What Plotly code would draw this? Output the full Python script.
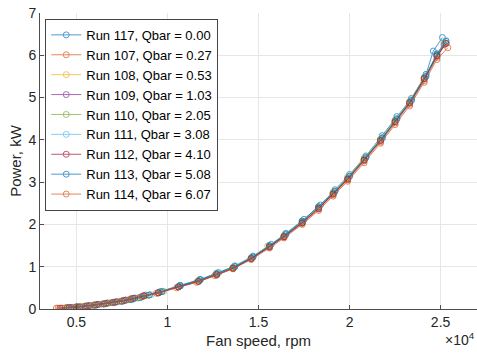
import plotly.graph_objects as go

# ---------------- data ----------------
names = ["Run 117, Qbar = 0.00", "Run 107, Qbar = 0.27", "Run 108, Qbar = 0.53",
         "Run 109, Qbar = 1.03", "Run 110, Qbar = 2.05", "Run 111, Qbar = 3.08",
         "Run 112, Qbar = 4.10", "Run 113, Qbar = 5.08", "Run 114, Qbar = 6.07"]

rpm_117 = [4700, 5200, 5700, 6200, 6700, 7200, 7700, 8200, 8800, 9600, 10700, 11800, 12800, 13700,
           14700, 15700, 16500, 17500, 18400, 19200, 20000, 20900, 21800, 22600, 23400, 24200, 24600, 25100]
pw_117 = [0.03, 0.05, 0.08, 0.11, 0.14, 0.17, 0.21, 0.26, 0.33, 0.41, 0.56, 0.70, 0.86, 1.02,
          1.25, 1.53, 1.79, 2.12, 2.46, 2.82, 3.18, 3.62, 4.10, 4.55, 4.98, 5.55, 6.10, 6.42]

rpm_107 = [3900, 4500, 5000, 5500, 6000, 6500, 7000, 7500, 8000, 8600, 9500, 10600, 11700, 12700, 13600,
           14600, 15600, 16400, 17400, 18300, 19100, 19900, 20800, 21700, 22500, 23300, 24100, 24800, 25300]
pw_107 = [0.02, 0.03, 0.05, 0.07, 0.10, 0.12, 0.16, 0.19, 0.24, 0.30, 0.38, 0.52, 0.65, 0.80, 0.96,
          1.19, 1.46, 1.70, 2.02, 2.36, 2.70, 3.05, 3.50, 3.95, 4.40, 4.84, 5.40, 5.95, 6.28]

rpm_108 = [4300, 4800, 5300, 5800, 6300, 6800, 7300, 7800, 8400, 9000, 9800, 10700, 11800, 12700, 13600,
           14600, 15500, 16400, 17400, 18300, 19100, 19900, 20800, 21700, 22500, 23300, 24100, 24800, 25200]
pw_108 = [0.02, 0.04, 0.06, 0.08, 0.11, 0.14, 0.17, 0.21, 0.27, 0.33, 0.42, 0.55, 0.69, 0.84, 0.99,
          1.22, 1.49, 1.74, 2.07, 2.41, 2.76, 3.12, 3.57, 4.02, 4.47, 4.91, 5.48, 6.02, 6.30]

rpm_109 = [4200, 4700, 5200, 5700, 6200, 6700, 7200, 7700, 8200, 8700, 9500, 10600, 11700, 12700, 13600,
           14600, 15600, 16400, 17400, 18300, 19100, 19900, 20800, 21700, 22500, 23300, 24100, 24800, 25200]
pw_109 = [0.02, 0.04, 0.05, 0.08, 0.11, 0.14, 0.17, 0.21, 0.25, 0.31, 0.39, 0.53, 0.66, 0.82, 0.97,
          1.20, 1.47, 1.72, 2.04, 2.38, 2.73, 3.08, 3.53, 3.99, 4.43, 4.87, 5.44, 5.98, 6.25]

rpm_110 = [4400, 4900, 5400, 5900, 6400, 6900, 7400, 7900, 8400, 8900, 9600, 10700, 11700, 12700, 13600,
           14600, 15600, 16400, 17400, 18300, 19100, 19900, 20800, 21700, 22500, 23300, 24100, 24800, 25250]
pw_110 = [0.03, 0.04, 0.06, 0.09, 0.12, 0.15, 0.18, 0.22, 0.26, 0.32, 0.40, 0.54, 0.67, 0.83, 0.98,
          1.21, 1.48, 1.73, 2.05, 2.40, 2.75, 3.10, 3.55, 4.01, 4.46, 4.90, 5.47, 6.00, 6.30]

rpm_111 = [4600, 5100, 5600, 6100, 6600, 7100, 7600, 8100, 8600, 9100, 9700, 10700, 11800, 12800, 13700,
           14700, 15600, 16500, 17400, 18300, 19200, 20000, 20900, 21800, 22600, 23400, 24200, 24800, 25300]
pw_111 = [0.03, 0.05, 0.07, 0.09, 0.12, 0.15, 0.19, 0.23, 0.28, 0.34, 0.42, 0.55, 0.70, 0.86, 1.01,
          1.24, 1.50, 1.77, 2.08, 2.42, 2.79, 3.14, 3.59, 4.06, 4.51, 4.95, 5.52, 6.04, 6.35]

rpm_112 = [4100, 4600, 5100, 5600, 6100, 6600, 7100, 7600, 8100, 8700, 9500, 10600, 11700, 12700, 13600,
           14600, 15600, 16400, 17400, 18300, 19100, 19900, 20800, 21700, 22500, 23300, 24100, 24800, 25300]
pw_112 = [0.02, 0.03, 0.05, 0.07, 0.10, 0.13, 0.16, 0.20, 0.25, 0.31, 0.38, 0.52, 0.65, 0.81, 0.96,
          1.19, 1.47, 1.71, 2.04, 2.38, 2.72, 3.07, 3.52, 3.98, 4.43, 4.88, 5.45, 5.99, 6.28]

rpm_113 = [4500, 5000, 5500, 6000, 6500, 7000, 7500, 8000, 8500, 9000, 9700, 10700, 11800, 12700, 13700,
           14700, 15600, 16500, 17400, 18300, 19200, 20000, 20900, 21800, 22600, 23400, 24200, 24800, 25300]
pw_113 = [0.03, 0.05, 0.06, 0.09, 0.12, 0.15, 0.18, 0.22, 0.27, 0.33, 0.41, 0.55, 0.69, 0.84, 1.00,
          1.23, 1.50, 1.76, 2.08, 2.42, 2.78, 3.14, 3.58, 4.04, 4.49, 4.93, 5.50, 6.03, 6.33]

rpm_114 = [4000, 4500, 5000, 5500, 6000, 6500, 7000, 7500, 8000, 8600, 9400, 10500, 11600, 12600, 13600,
           14600, 15600, 16400, 17400, 18300, 19100, 19900, 20800, 21700, 22500, 23300, 24100, 24800, 25400]
pw_114 = [0.02, 0.03, 0.05, 0.07, 0.09, 0.12, 0.15, 0.19, 0.24, 0.29, 0.37, 0.50, 0.63, 0.79, 0.95,
          1.17, 1.44, 1.68, 2.00, 2.33, 2.67, 3.02, 3.46, 3.92, 4.36, 4.80, 5.36, 5.90, 6.18]

rpms = [rpm_117, rpm_107, rpm_108, rpm_109, rpm_110, rpm_111, rpm_112, rpm_113, rpm_114]
pws = [pw_117, pw_107, pw_108, pw_109, pw_110, pw_111, pw_112, pw_113, pw_114]
colors = ["#0072BD", "#D95319", "#EDB120", "#7E2F8E", "#77AC30",
          "#4DBEEE", "#A2142F", "#0072BD", "#D95319"]

x_tickvals = [5000, 10000, 15000, 20000, 25000]
x_ticktext = ["0.5", "1", "1.5", "2", "2.5"]
y_tickvals = [0, 1, 2, 3, 4, 5, 6, 7]

FONT = "Arial, Liberation Sans, Helvetica, sans-serif"

fig = go.Figure()
for n, x, y, c in zip(names, rpms, pws, colors):
    fig.add_trace(go.Scatter(
        x=x, y=y, name=n, mode="lines+markers",
        line=dict(color=c, width=1),
        marker=dict(symbol="circle-open", size=6, color=c, line=dict(width=1)),
        opacity=0.7,
    ))

fig.update_layout(
    width=477, height=358,
    margin=dict(l=40, r=0, t=13, b=49),
    paper_bgcolor="white", plot_bgcolor="white",
    font=dict(family=FONT, size=14, color="#262626"),
    showlegend=True,
    legend=dict(
        x=0.012, y=0.98, xanchor="left", yanchor="top",
        bgcolor="white", bordercolor="#444444", borderwidth=1,
        font=dict(family=FONT, size=13, color="#000000"),
        tracegroupgap=0, itemwidth=30,
    ),
    xaxis=dict(
        range=[3000, 27000],
        tickvals=x_tickvals, ticktext=x_ticktext,
        tickfont=dict(size=14),
        showgrid=True, gridcolor="#e6e6e6", gridwidth=1,
        showline=True, linecolor="#4d4d4d", linewidth=1,
        ticks="inside", ticklen=4, tickcolor="#4d4d4d",
        zeroline=False,
        title=dict(text="Fan speed, rpm", font=dict(size=15, color="#262626"), standoff=6),
    ),
    yaxis=dict(
        range=[0, 7],
        tickvals=y_tickvals,
        tickfont=dict(size=14),
        showgrid=True, gridcolor="#e6e6e6", gridwidth=1,
        showline=True, linecolor="#4d4d4d", linewidth=1,
        ticks="inside", ticklen=4, tickcolor="#4d4d4d",
        zeroline=False,
        title=dict(text="Power, kW", font=dict(size=15, color="#262626"), standoff=3),
    ),
    annotations=[dict(
        text="×10<sup>4</sup>", xref="paper", yref="paper",
        x=1.0, y=-0.102, xanchor="right", yanchor="middle", showarrow=False,
        font=dict(size=14, color="#262626"),
    )],
)

fig.write_html("out.html")
